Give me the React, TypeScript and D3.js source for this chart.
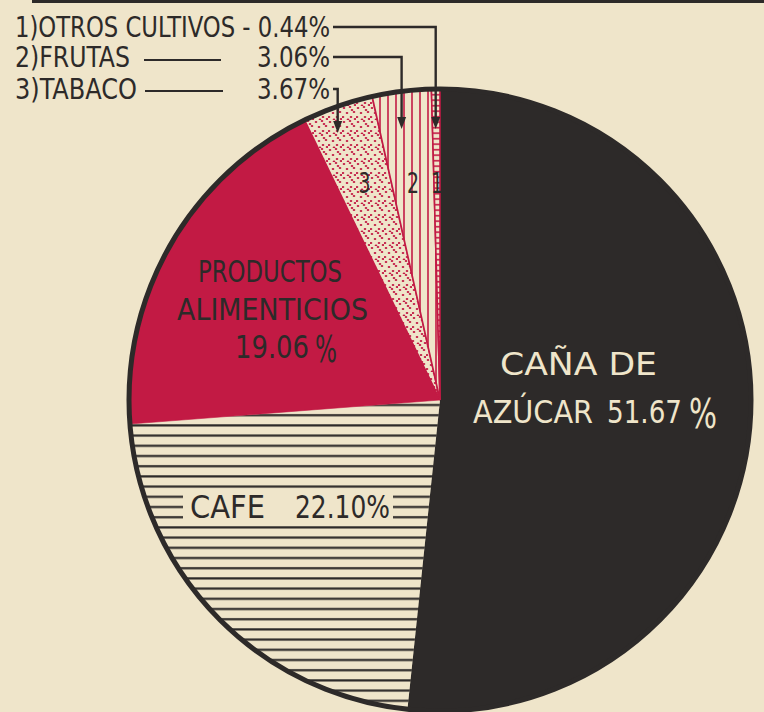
import React, { useEffect, useRef } from "react";
import * as d3 from "d3";

// shares of cultivated production, clockwise from 12 o'clock
const categories = ["CAÑA DE AZÚCAR", "CAFE", "PRODUCTOS ALIMENTICIOS", "TABACO", "FRUTAS", "OTROS CULTIVOS"];
const shares = [51.67, 22.1, 19.06, 3.67, 3.06, 0.44];
const shareLabels = ["51.67 %", "22.10%", "19.06 %", "3.67%", "3.06%", "0.44%"];
const smallNumbers = ["", "", "", "3", "2", "1"];

const CREAM = "#efe5ca";
const INK = "#2d2a29";
const RED = "#c21a44";
const FONT = "'Liberation Sans Narrow', 'DejaVu Sans Condensed', 'Roboto Condensed', sans-serif";

function App() {
  const svgRef = useRef<SVGSVGElement>(null);

  useEffect(() => {
    document.body.style.margin = "0";
    const width = 764;
    const height = 712;
    const cx = 440;
    const cy = 400;
    const r = 311;

    const svg = d3.select(svgRef.current).attr("width", width).attr("height", height);
    svg.selectAll("*").remove();

    svg.append("rect").attr("width", width).attr("height", height).attr("fill", CREAM);

    // --- patterns
    const defs = svg.append("defs");
    const hatch = defs.append("pattern").attr("id", "hatch").attr("patternUnits", "userSpaceOnUse")
      .attr("width", 20).attr("height", 10.2);
    hatch.append("rect").attr("width", 20).attr("height", 10.2).attr("fill", CREAM);
    hatch.append("line").attr("x1", 0).attr("x2", 20).attr("y1", 5).attr("y2", 5)
      .attr("stroke", INK).attr("stroke-width", 2.2);

    const dots = defs.append("pattern").attr("id", "dots").attr("patternUnits", "userSpaceOnUse")
      .attr("width", 14).attr("height", 14);
    dots.append("rect").attr("width", 14).attr("height", 14).attr("fill", CREAM);
    [[2, 2], [8, 1], [12, 6], [5, 7], [1, 11], [9, 11], [13, 13], [6, 13.5], [10, 4]].forEach(([x, y]) => {
      dots.append("ellipse").attr("cx", x).attr("cy", y).attr("rx", 1.3).attr("ry", 1.0).attr("fill", RED);
    });

    const vstripe = defs.append("pattern").attr("id", "vstripe").attr("patternUnits", "userSpaceOnUse")
      .attr("width", 8).attr("height", 20);
    vstripe.append("rect").attr("width", 8).attr("height", 20).attr("fill", CREAM);
    vstripe.append("line").attr("x1", 4).attr("x2", 4).attr("y1", 0).attr("y2", 20)
      .attr("stroke", RED).attr("stroke-width", 1.6);

    const ladder = defs.append("pattern").attr("id", "ladder").attr("patternUnits", "userSpaceOnUse")
      .attr("width", 10).attr("height", 5.5);
    ladder.append("rect").attr("width", 10).attr("height", 5.5).attr("fill", CREAM);
    ladder.append("line").attr("x1", 0).attr("x2", 10).attr("y1", 2.7).attr("y2", 2.7)
      .attr("stroke", RED).attr("stroke-width", 1.6);

    const sliceFill = [INK, "url(#hatch)", RED, "url(#dots)", "url(#vstripe)", "url(#ladder)"];
    const sliceStroke = [INK, "none", RED, RED, RED, RED];

    // top rule
    svg.append("line").attr("x1", 32).attr("x2", width).attr("y1", 1.5).attr("y2", 1.5)
      .attr("stroke", INK).attr("stroke-width", 3);

    // --- pie
    const pie = d3.pie<number>().sort(null).value(d => d);
    const arcs = pie(shares);
    const arc = d3.arc<d3.PieArcDatum<number>>().innerRadius(0).outerRadius(r);

    const g = svg.append("g").attr("transform", `translate(${cx},${cy})`);
    g.selectAll("path.slice")
      .data(arcs)
      .join("path")
      .attr("class", "slice")
      .attr("d", arc)
      .attr("fill", (d, i) => sliceFill[i])
      .attr("stroke", (d, i) => sliceStroke[i])
      .attr("stroke-width", (d, i) => (i >= 3 ? 1.6 : 0.6));

    g.append("circle").attr("r", r).attr("fill", "none").attr("stroke", INK).attr("stroke-width", 5);

    // --- text helper
    const txt = (x: number, y: number, s: string, len: number, size: number, fill: string, anchor = "start") =>
      svg.append("text")
        .attr("x", x).attr("y", y)
        .attr("font-family", FONT)
        .attr("font-size", size)
        .attr("fill", fill)
        .attr("text-anchor", anchor)
        .attr("textLength", len)
        .attr("lengthAdjust", "spacingAndGlyphs")
        .text(s);

    // caña de azúcar
    txt(cx + 60, cy - 25, "CAÑA  DE", 157, 32, CREAM);
    txt(cx + 33, cy + 23, "AZÚCAR", 120, 32, CREAM);
    txt(cx + 167, cy + 23, shareLabels[0].replace(" %", ""), 75, 32, CREAM);
    txt(cx + 249, cy + 28, "%", 28, 40, CREAM);

    // productos alimenticios
    txt(cx - 242, cy - 118, "PRODUCTOS", 144, 31, INK);
    txt(cx - 263, cy - 80, "ALIMENTICIOS", 191, 31, INK);
    txt(cx - 205, cy - 42, shareLabels[2].replace(" %", ""), 74, 32, INK);
    txt(cx - 125, cy - 38, "%", 22, 38, INK);

    // cafe: cream box over the hatching
    svg.append("rect").attr("x", cx - 257).attr("y", cy + 90).attr("width", 210).attr("height", 31).attr("fill", CREAM);
    txt(cx - 250, cy + 118, "CAFE", 75, 32, INK);
    txt(cx - 145, cy + 118, shareLabels[1], 95, 32, INK);

    // small slice numbers
    arcs.forEach((a, i) => {
      if (!smallNumbers[i]) return;
      const mid = (a.startAngle + a.endAngle) / 2;
      const x = cx + Math.tan(mid) * (cy - 183);
      txt(x, 193, smallNumbers[i], 12, 28, INK, "middle");
    });

    // legend
    const legendY = [37, 67, 99];
    const legendIdx = [5, 4, 3];
    txt(15, legendY[0], `1)OTROS CULTIVOS - ${shareLabels[5]}`, 315, 28, INK);
    txt(15, legendY[1], "2)FRUTAS", 115, 28, INK);
    txt(15, legendY[2], "3)TABACO", 122, 28, INK);
    svg.append("line").attr("x1", 144).attr("x2", 221).attr("y1", 60).attr("y2", 60).attr("stroke", INK).attr("stroke-width", 2.2);
    svg.append("line").attr("x1", 145).attr("x2", 223).attr("y1", 91).attr("y2", 91).attr("stroke", INK).attr("stroke-width", 2.2);

    const tipY = [129, 129, 133];
    legendIdx.forEach((k, j) => {
      if (j > 0) txt(330, legendY[j], shareLabels[k], 73, 28, INK, "end");
      const a = arcs[k];
      const mid = (a.startAngle + a.endAngle) / 2;
      const ax = cx + Math.sin(mid) * r;
      const ly = legendY[j] - 10;
      svg.append("path")
        .attr("d", `M${333},${ly}H${ax}V${tipY[j] - 10}`)
        .attr("fill", "none").attr("stroke", INK).attr("stroke-width", 2.4);
      svg.append("path")
        .attr("d", `M${ax - 4.5},${tipY[j] - 12}L${ax + 4.5},${tipY[j] - 12}L${ax},${tipY[j]}Z`)
        .attr("fill", INK);
    });
  }, []);

  return (
    <div className="charts">
      <svg ref={svgRef}></svg>
    </div>
  );
}

export default App;
